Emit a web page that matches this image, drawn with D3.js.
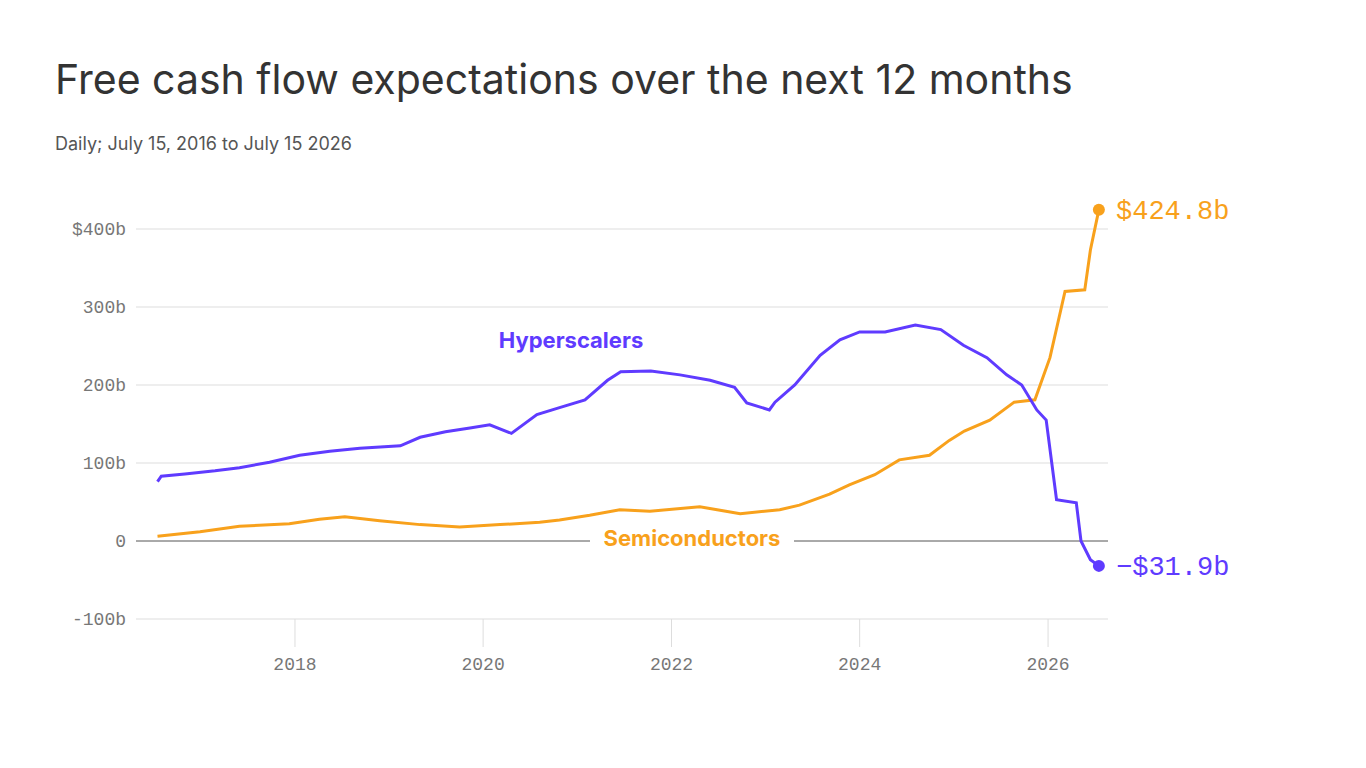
<!DOCTYPE html>
<html><head><meta charset="utf-8">
<script src="https://cdn.jsdelivr.net/npm/d3@7"></script>
<style>
body{margin:0;background:#fff;}
svg text{font-family:"Inter","Noto Sans",sans-serif;}
.mono{font-family:"Liberation Mono","DejaVu Sans Mono",monospace;}
</style></head><body>
<div id="chart"></div>
<script>
// decimal years and values ($b)
var hyperYears = [2016.54,2016.58,2016.83,2017.15,2017.41,2017.73,2018.05,2018.37,2018.69,2019.12,2019.33,2019.6,2019.86,2020.07,2020.3,2020.57,2020.81,2021.08,2021.32,2021.46,2021.78,2022.09,2022.41,2022.67,2022.8,2023.04,2023.1,2023.31,2023.58,2023.79,2024.0,2024.27,2024.59,2024.86,2025.1,2025.35,2025.56,2025.72,2025.88,2025.98,2026.09,2026.3,2026.35,2026.45,2026.54];
var hyperVals  = [76,83,86,90,94,101,110,115,119,122,133,140,145,149,138,162,171,181,206,217,218,213,206,197,177,168,178,200,238,258,268,268,277,271,251,235,213,200,168,155,53,49,0,-24,-31.9];
var semiYears = [2016.54,2016.99,2017.41,2017.94,2018.26,2018.53,2018.9,2019.33,2019.75,2020.18,2020.6,2020.81,2021.13,2021.45,2021.77,2022.3,2022.73,2023.15,2023.36,2023.68,2023.89,2024.16,2024.42,2024.74,2024.95,2025.11,2025.38,2025.64,2025.86,2026.02,2026.18,2026.39,2026.45,2026.54];
var semiVals  = [6,12,19,22,28,31,26,21,18,21,24,27,33,40,38,44,35,40,46,60,72,85,104,110,129,141,155,178,181,235,320,322,373,424.8];
var yTicks = [-100,0,100,200,300,400];
var xTickYears = [2018,2020,2022,2024,2026];

var W = 1366, H = 768;
var svg = d3.select("#chart").append("svg").attr("width",W).attr("height",H);

function toDate(y){ var yr=Math.floor(y); var s=new Date(yr,0,1), e=new Date(yr+1,0,1); return new Date(+s+(y-yr)*(e-s)); }

var x = d3.scaleTime().domain([toDate(2016.312),toDate(2026.637)]).range([136,1108]);
var y = d3.scaleLinear().domain([-100,400]).range([619,229]);

svg.append("text").attr("x",55).attr("y",94).attr("font-size",41).attr("fill","#333").text("Free cash flow expectations over the next 12 months");
svg.append("text").attr("x",55).attr("y",150).attr("font-size",18).attr("fill","#555").text("Daily; July 15, 2016 to July 15 2026");

svg.selectAll(".grid").data(yTicks).enter().append("line")
  .attr("x1",136).attr("x2",1108).attr("y1",d=>y(d)).attr("y2",d=>y(d))
  .attr("stroke",d=>d===0?"#555":"#ddd").attr("stroke-width",1);
svg.selectAll(".yl").data(yTicks).enter().append("text").attr("class","mono")
  .attr("x",126).attr("y",d=>y(d)+6).attr("text-anchor","end").attr("font-size",18).attr("fill","#777")
  .text(d=>d===0?"0":(d<0?"-"+(-d):d===400?"$"+d:d)+"b");
svg.selectAll(".xt").data(xTickYears).enter().append("line")
  .attr("x1",d=>x(toDate(d))).attr("x2",d=>x(toDate(d))).attr("y1",619).attr("y2",647).attr("stroke","#ddd");
svg.selectAll(".xl").data(xTickYears).enter().append("text").attr("class","mono")
  .attr("x",d=>x(toDate(d))).attr("y",670).attr("text-anchor","middle").attr("font-size",18).attr("fill","#777").text(d=>d);

var line = d3.line().x(d=>x(toDate(d[0]))).y(d=>y(d[1])).curve(d3.curveLinear);
var hyper = hyperYears.map((v,i)=>[v,hyperVals[i]]);
var semi = semiYears.map((v,i)=>[v,semiVals[i]]);
var purple="#5f3bff", orange="#f8a11c";

svg.append("path").datum(semi).attr("d",line).attr("fill","none").attr("stroke",orange).attr("stroke-width",3);
svg.append("path").datum(hyper).attr("d",line).attr("fill","none").attr("stroke",purple).attr("stroke-width",3);

// label with white background over zero line
svg.append("rect").attr("x",590).attr("y",526).attr("width",204).attr("height",26).attr("fill","#fff");
svg.append("text").attr("x",692).attr("y",546).attr("text-anchor","middle").attr("font-size",22).attr("font-weight",700).attr("fill",orange).text("Semiconductors");
svg.append("text").attr("x",571).attr("y",348).attr("text-anchor","middle").attr("font-size",22).attr("font-weight",700).attr("fill",purple).text("Hyperscalers");

var ends=[[semi[semi.length-1],orange,"$424.8b"],[hyper[hyper.length-1],purple,"\u2212$31.9b"]];
ends.forEach(function(e){
  svg.append("circle").attr("cx",x(toDate(e[0][0]))).attr("cy",y(e[0][1])).attr("r",6).attr("fill",e[1]);
  svg.append("text").attr("class","mono").attr("x",1116).attr("y",y(e[0][1])+9).attr("font-size",27).attr("fill",e[1]).text(e[2]);
});
</script></body></html>
